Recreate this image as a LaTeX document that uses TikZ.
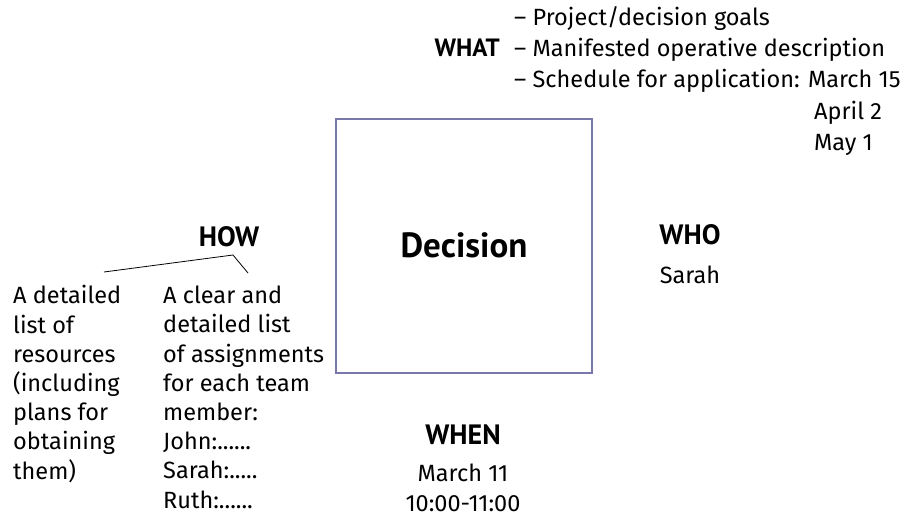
\documentclass[tikz,border=0pt]{standalone}
\usepackage{fontspec}
\setmainfont{Fira Sans}
\newfontfamily\headfont{PT Sans}
\begin{document}
\begin{tikzpicture}[x=1pt,y=-1pt,
  body/.style={inner sep=0pt, font=\fontsize{23.5}{29.2}\selectfont, align=left},
  head/.style={inner sep=0pt, font=\headfont\fontsize{28}{29}\selectfont\bfseries},
  whathead/.style={inner sep=0pt, font=\headfont\fontsize{25}{29}\selectfont\bfseries},
  bigword/.style={inner sep=0pt, font=\headfont\fontsize{35}{35}\selectfont\bfseries},
  decbox/.style={draw=boxline, line width=1.6pt},
  link/.style={draw=black, line width=0.8pt}]
\definecolor{boxline}{RGB}{120,120,170}
\useasboundingbox (0,0) rectangle (921,532);

% central decision square
\draw[decbox] (336,119) rectangle (592,373);
\node[bigword, anchor=base] (dec) at (464,257) {Decision};

% WHAT
\node[whathead, anchor=base east] (what) at (500,56.5) {WHAT};
\node[body, anchor=base west] (w1) at (514,26) {– Project/decision goals};
\node[body, anchor=base west] (w2) at (514,56.5) {– Manifested operative description};
\node[body, anchor=base west] (w3) at (514,88) {– Schedule for application: March 15};
\node[body, anchor=base west] (w4) at (814,119.5) {April 2};
\node[body, anchor=base west] (w5) at (814,150.5) {May 1};

% WHO
\node[head, anchor=base] (who) at (690,244) {WHO};
\node[body, anchor=base] (sarah) at (690,283) {Sarah};

% WHEN
\node[head, anchor=base] (when) at (463,444) {WHEN};
\node[body, anchor=base] (date) at (463,481) {March 11};
\node[body, anchor=base] (time) at (463,511) {10:00-11:00};

% HOW, with its two lists (anchored at the baseline of their last lines)
\node[head, anchor=base] (how) at (229,246) {HOW};
\node[body, anchor=base west] (res) at (13,479) {A detailed\\list of\\resources\\(including\\plans for\\obtaining\\them)};
\node[body, anchor=base west] (asg) at (163,508) {A clear and\\detailed list\\of assignments\\for each team\\member:\\John:......\\Sarah:.....\\Ruth:......};
\coordinate (hl) at (104,272);
\coordinate (hp) at (233,255);
\coordinate (hr) at (248,273);
\draw[link] (hl) -- (hp) -- (hr);
\end{tikzpicture}
\end{document}
